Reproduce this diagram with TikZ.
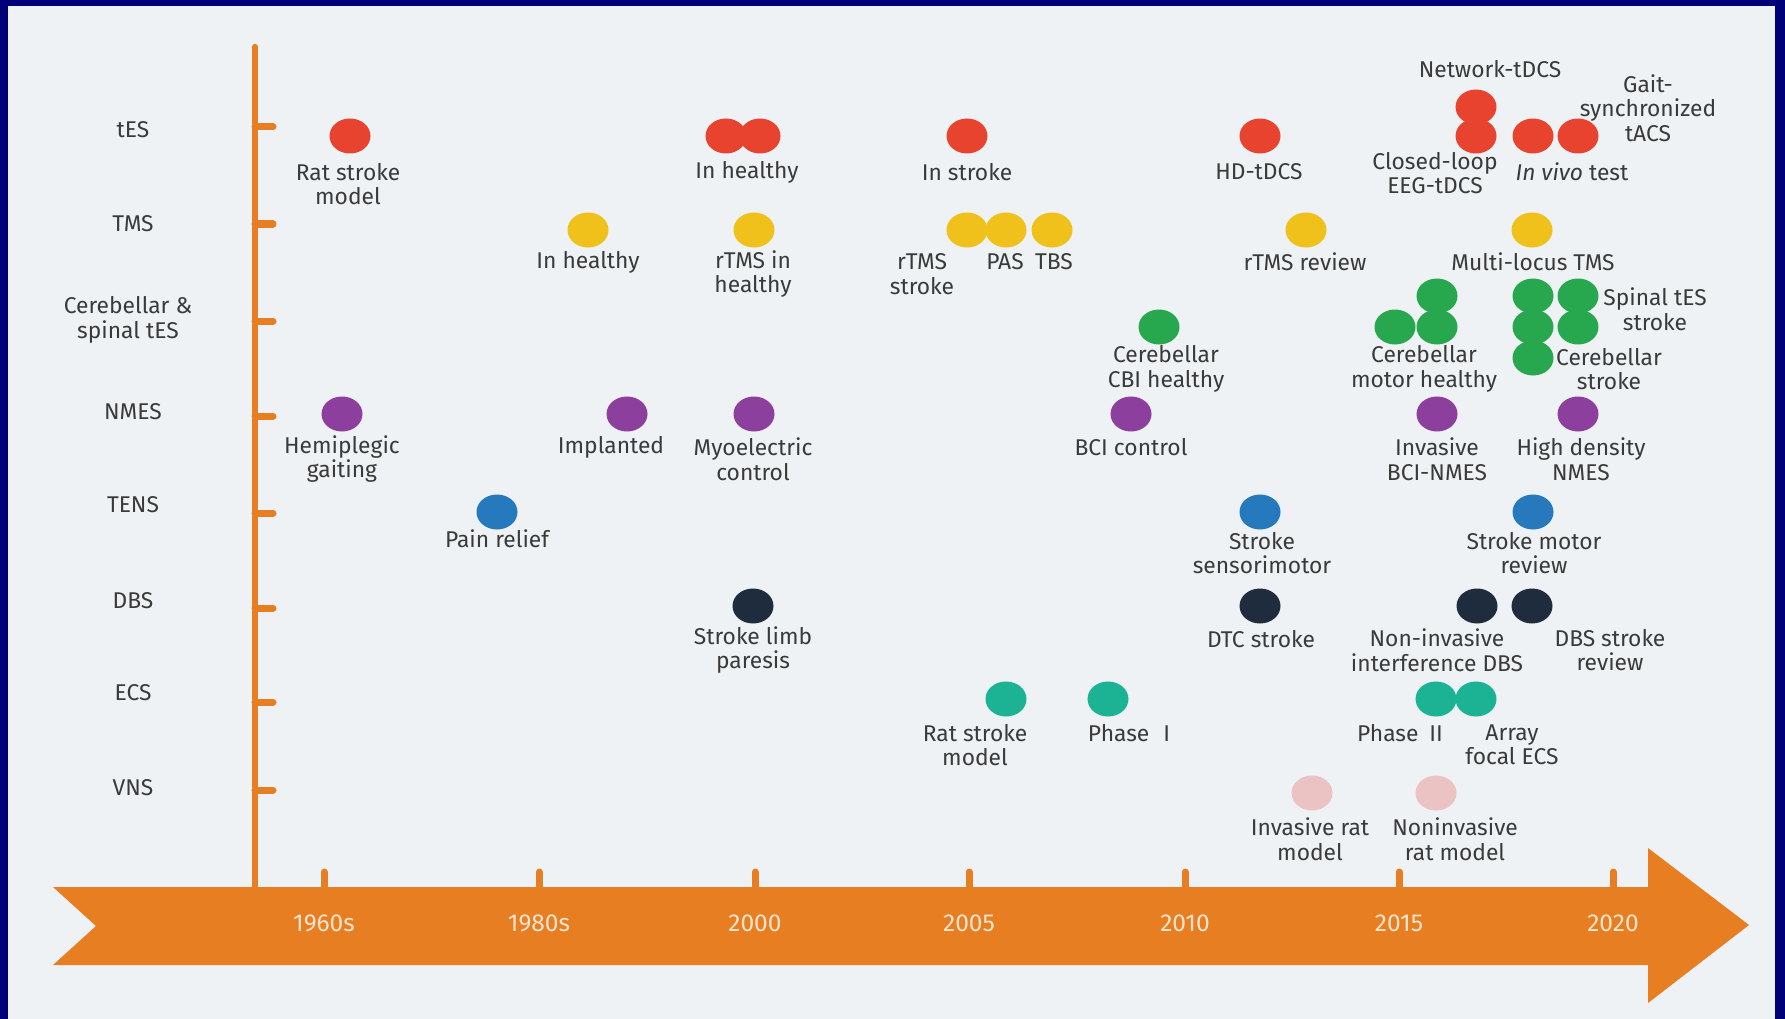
\documentclass[tikz,border=0pt]{standalone}
\usepackage{fontspec}
\setmainfont{Fira Sans}
\usepackage{tikz}
\usetikzlibrary{shapes.geometric}

\definecolor{frameblue}{RGB}{0,0,120}
\definecolor{paper}{HTML}{EEF2F4}
\definecolor{band}{HTML}{E87E22}
\definecolor{yeartext}{HTML}{FCE4CF}
\definecolor{ink}{HTML}{3A3A3A}
\definecolor{tesred}{HTML}{E8432F}
\definecolor{tmsyellow}{HTML}{EFC11A}
\definecolor{cbgreen}{HTML}{27A84F}
\definecolor{nmespurple}{HTML}{8C3F9C}
\definecolor{tensblue}{HTML}{2679BC}
\definecolor{dbsnavy}{HTML}{1E2C3E}
\definecolor{ecsteal}{HTML}{1BB394}
\definecolor{vnspink}{HTML}{EBC3C2}

\begin{document}
\begin{tikzpicture}[x=1pt,y=-1pt,
    dot/.style={ellipse,fill=#1,minimum width=41pt,minimum height=35pt,inner sep=0pt},
    txt/.style={align=center,text=ink,inner sep=0pt,font=\fontsize{22.8}{24.5}\selectfont},
    yr/.style={text=yeartext,inner sep=0pt,font=\fontsize{24.5}{28}\selectfont}]

  \useasboundingbox (0,0) rectangle (1785,1019);
  \fill[frameblue] (0,0) rectangle (1785,1019);
  \fill[paper] (8,6) rectangle (1775,1019);

  % time arrow and technique axis
  \fill[band] (53,887) -- (1648,887) -- (1648,848) -- (1749,925) -- (1648,1003)
     -- (1648,965) -- (53,965) -- (96,926) -- cycle;
  \draw[band,line width=6.5pt,line cap=round] (255,47) -- (255,887);

  \draw[band,line width=7pt,line cap=round] (255,127) -- (273,127);
  \draw[band,line width=7pt,line cap=round] (255,224) -- (273,224);
  \draw[band,line width=7pt,line cap=round] (255,321) -- (273,321);
  \draw[band,line width=7pt,line cap=round] (255,416) -- (273,416);
  \draw[band,line width=7pt,line cap=round] (255,513) -- (273,513);
  \draw[band,line width=7pt,line cap=round] (255,608) -- (273,608);
  \draw[band,line width=7pt,line cap=round] (255,702) -- (273,702);
  \draw[band,line width=7pt,line cap=round] (255,790) -- (273,790);

  \draw (133,130) node[txt] (tES) {tES};
  \draw (133,224) node[txt] (TMS) {TMS};
  \draw (128,320) node[txt] (CBS) {Cerebellar \&\\spinal tES};
  \draw (133,412) node[txt] (NMES) {NMES};
  \draw (133,505) node[txt] (TENS) {TENS};
  \draw (133,601) node[txt] (DBS) {DBS};
  \draw (133,693) node[txt] (ECS) {ECS};
  \draw (133,788) node[txt] (VNS) {VNS};

  % years
  \draw[band,line width=7pt,line cap=round] (324,872) -- (324,892);
  \draw[band,line width=7pt,line cap=round] (539,872) -- (539,892);
  \draw[band,line width=7pt,line cap=round] (755,872) -- (755,892);
  \draw[band,line width=7pt,line cap=round] (969,872) -- (969,892);
  \draw[band,line width=7pt,line cap=round] (1185,872) -- (1185,892);
  \draw[band,line width=7pt,line cap=round] (1399,872) -- (1399,892);
  \draw[band,line width=7pt,line cap=round] (1613,872) -- (1613,892);

  \draw (324,923) node[yr] (y60) {1960s};
  \draw (539,923) node[yr] (y80) {1980s};
  \draw (755,923) node[yr] (y00) {2000};
  \draw (969,923) node[yr] (y05) {2005};
  \draw (1185,923) node[yr] (y10) {2010};
  \draw (1399,923) node[yr] (y15) {2015};
  \draw (1613,923) node[yr] (y20) {2020};

  % tES
  \draw (350,136) node[dot=tesred] (tesRat) {};
  \draw (726,136) node[dot=tesred] (tesHealthyA) {};
  \draw (760,136) node[dot=tesred] (tesHealthyB) {};
  \draw (967,136) node[dot=tesred] (tesStroke) {};
  \draw (1260,136) node[dot=tesred] (tesHD) {};
  \draw (1476,107) node[dot=tesred] (tesNetwork) {};
  \draw (1476,136) node[dot=tesred] (tesClosed) {};
  \draw (1533,136) node[dot=tesred] (tesVivo) {};
  \draw (1578,136) node[dot=tesred] (tesGait) {};

  \draw (348,184) node[txt] (tesRatL) {Rat stroke\\model};
  \draw (747,172) node[txt] (tesHealthyL) {In healthy};
  \draw (967,172) node[txt] (tesStrokeL) {In stroke};
  \draw (1259,172) node[txt] (tesHDL) {HD-tDCS};
  \draw (1490,69) node[txt] (tesNetworkL) {Network-tDCS};
  \draw (1435,173) node[txt] (tesClosedL) {Closed-loop\\EEG-tDCS};
  \draw (1572,172) node[txt] (tesVivoL) {\textit{In vivo} test};
  \draw (1648,108) node[txt] (tesGaitL) {Gait-\\synchronized\\tACS};

  % TMS
  \draw (588,230) node[dot=tmsyellow] (tmsHealthy) {};
  \draw (754,230) node[dot=tmsyellow] (tmsRep) {};
  \draw (967,230) node[dot=tmsyellow] (tmsStroke) {};
  \draw (1006,230) node[dot=tmsyellow] (tmsPAS) {};
  \draw (1052,230) node[dot=tmsyellow] (tmsTBS) {};
  \draw (1306,230) node[dot=tmsyellow] (tmsReview) {};
  \draw (1532,230) node[dot=tmsyellow] (tmsMulti) {};

  \draw (588,262) node[txt] (tmsHealthyL) {In healthy};
  \draw (753,274) node[txt] (tmsRepL) {rTMS in\\healthy};
  \draw (922,274) node[txt] (tmsStrokeL) {rTMS\\stroke};
  \draw (1005,262) node[txt] (tmsPASL) {PAS};
  \draw (1054,262) node[txt] (tmsTBSL) {TBS};
  \draw (1305,262) node[txt] (tmsReviewL) {rTMS review};
  \draw (1533,262) node[txt] (tmsMultiL) {Multi-locus TMS};

  % cerebellar & spinal tES
  \draw (1159,327) node[dot=cbgreen] (cbCBI) {};
  \draw (1395,327) node[dot=cbgreen] (cbMotorA) {};
  \draw (1437,296) node[dot=cbgreen] (cbMotorB) {};
  \draw (1437,327) node[dot=cbgreen] (cbMotorC) {};
  \draw (1533,296) node[dot=cbgreen] (cbStrokeA) {};
  \draw (1533,327) node[dot=cbgreen] (cbStrokeB) {};
  \draw (1533,358) node[dot=cbgreen] (cbStrokeC) {};
  \draw (1578,296) node[dot=cbgreen] (cbSpinalA) {};
  \draw (1578,327) node[dot=cbgreen] (cbSpinalB) {};

  \draw (1166,369) node[txt] (cbCBIL) {Cerebellar\\CBI healthy};
  \draw (1424,369) node[txt] (cbMotorL) {Cerebellar\\motor healthy};
  \draw (1609,369) node[txt] (cbStrokeL) {Cerebellar\\stroke};
  \draw (1655,309) node[txt] (cbSpinalL) {Spinal tES\\stroke};

  % NMES
  \draw (342,414) node[dot=nmespurple] (nmesGait) {};
  \draw (627,414) node[dot=nmespurple] (nmesImpl) {};
  \draw (754,414) node[dot=nmespurple] (nmesMyo) {};
  \draw (1131,414) node[dot=nmespurple] (nmesBCI) {};
  \draw (1437,414) node[dot=nmespurple] (nmesInv) {};
  \draw (1578,414) node[dot=nmespurple] (nmesHD) {};

  \draw (342,459) node[txt] (nmesGaitL) {Hemiplegic\\gaiting};
  \draw (611,447) node[txt] (nmesImplL) {Implanted};
  \draw (753,459) node[txt] (nmesMyoL) {Myoelectric\\control};
  \draw (1131,447) node[txt] (nmesBCIL) {BCI control};
  \draw (1437,459) node[txt] (nmesInvL) {Invasive\\BCI-NMES};
  \draw (1581,459) node[txt] (nmesHDL) {High density\\NMES};

  % TENS
  \draw (497,512) node[dot=tensblue] (tensPain) {};
  \draw (1260,512) node[dot=tensblue] (tensSens) {};
  \draw (1533,512) node[dot=tensblue] (tensMotor) {};

  \draw (497,539) node[txt] (tensPainL) {Pain relief};
  \draw (1262,553) node[txt] (tensSensL) {Stroke\\sensorimotor};
  \draw (1534,553) node[txt] (tensMotorL) {Stroke motor\\review};

  % DBS
  \draw (753,606) node[dot=dbsnavy] (dbsLimb) {};
  \draw (1260,606) node[dot=dbsnavy] (dbsDTC) {};
  \draw (1477,606) node[dot=dbsnavy] (dbsInter) {};
  \draw (1532,606) node[dot=dbsnavy] (dbsReview) {};

  \draw (753,650) node[txt] (dbsLimbL) {Stroke limb\\paresis};
  \draw (1261,639) node[txt] (dbsDTCL) {DTC stroke};
  \draw (1437,650) node[txt] (dbsInterL) {Non-invasive\\interference DBS};
  \draw (1610,650) node[txt] (dbsReviewL) {DBS stroke\\review};

  % ECS
  \draw (1006,699) node[dot=ecsteal] (ecsRat) {};
  \draw (1108,699) node[dot=ecsteal] (ecsOne) {};
  \draw (1436,699) node[dot=ecsteal] (ecsTwo) {};
  \draw (1476,699) node[dot=ecsteal] (ecsArray) {};

  \draw (975,745) node[txt] (ecsRatL) {Rat stroke\\model};
  \draw (1129,733) node[txt] (ecsOneL) {Phase\hspace{14pt}I};
  \draw (1400,733) node[txt] (ecsTwoL) {Phase\hspace{11pt}II};
  \draw (1512,745) node[txt] (ecsArrayL) {Array\\focal ECS};

  % VNS
  \draw (1312,793) node[dot=vnspink] (vnsInv) {};
  \draw (1436,793) node[dot=vnspink] (vnsNon) {};

  \draw (1310,839) node[txt] (vnsInvL) {Invasive rat\\model};
  \draw (1455,839) node[txt] (vnsNonL) {Noninvasive\\rat model};

\end{tikzpicture}
\end{document}
